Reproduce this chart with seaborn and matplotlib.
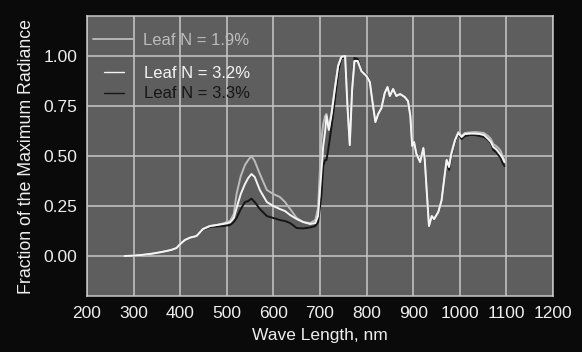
import numpy as np
import pandas as pd
import matplotlib
matplotlib.use("Agg")
import matplotlib.pyplot as plt
import seaborn as sns
from matplotlib.lines import Line2D

wavelength = [280, 300, 320, 340, 360, 380, 392, 400, 410, 421, 435, 449, 464, 478, 492,
              507, 515, 521, 530, 539, 546, 553, 560, 571, 586, 600, 614, 625, 636, 650,
              664, 679, 690, 696, 703, 707, 711, 714, 719, 725, 732, 739, 746, 754, 759,
              764, 769, 774, 781, 789, 800, 807, 814, 819, 825, 832, 839, 845, 850, 857,
              864, 872, 882, 889, 894, 898, 902, 907, 915, 922, 925, 930, 934, 940, 945,
              954, 961, 968, 972, 977, 982, 990, 997, 1004, 1011, 1022, 1032, 1043, 1052,
              1061, 1067, 1072, 1078, 1083, 1088, 1092, 1096]

leaf_n_19 = [0.0, 0.002, 0.006, 0.012, 0.02, 0.03, 0.04, 0.06, 0.08, 0.092, 0.10, 0.135, 0.15, 0.155, 0.163,
             0.175, 0.21, 0.31, 0.40, 0.455, 0.48, 0.50, 0.475, 0.41, 0.33, 0.31, 0.295, 0.27, 0.235, 0.19,
             0.17, 0.165, 0.18, 0.24, 0.58, 0.66, 0.70, 0.71, 0.64, 0.72, 0.84, 0.95, 1.0, 1.0, 0.75,
             0.555, 0.83, 0.975, 0.975, 0.925, 0.90, 0.87, 0.75, 0.67, 0.71, 0.74, 0.815, 0.845, 0.80, 0.835,
             0.80, 0.81, 0.795, 0.775, 0.70, 0.55, 0.57, 0.51, 0.47, 0.54, 0.48, 0.295, 0.15, 0.20, 0.185,
             0.22, 0.278, 0.41, 0.48, 0.45, 0.515, 0.58, 0.62, 0.60, 0.615, 0.618, 0.62, 0.618, 0.615,
             0.60, 0.585, 0.56, 0.55, 0.54, 0.525, 0.50, 0.48]

leaf_n_32 = [0.0, 0.002, 0.006, 0.012, 0.02, 0.03, 0.04, 0.06, 0.08, 0.092, 0.10, 0.135, 0.15, 0.155, 0.16,
             0.168, 0.19, 0.24, 0.31, 0.36, 0.39, 0.41, 0.395, 0.33, 0.27, 0.25, 0.235, 0.225, 0.205, 0.185,
             0.17, 0.16, 0.165, 0.20, 0.42, 0.55, 0.62, 0.70, 0.63, 0.71, 0.835, 0.95, 0.995, 1.0, 0.75,
             0.555, 0.83, 0.975, 0.975, 0.925, 0.90, 0.87, 0.75, 0.67, 0.71, 0.74, 0.815, 0.845, 0.80, 0.835,
             0.80, 0.81, 0.795, 0.775, 0.70, 0.55, 0.57, 0.51, 0.47, 0.54, 0.48, 0.295, 0.15, 0.20, 0.185,
             0.22, 0.278, 0.41, 0.48, 0.445, 0.51, 0.58, 0.615, 0.595, 0.61, 0.612, 0.612, 0.61, 0.605,
             0.585, 0.57, 0.545, 0.535, 0.52, 0.505, 0.49, 0.47]

leaf_n_33 = [0.0, 0.002, 0.006, 0.012, 0.02, 0.03, 0.04, 0.06, 0.08, 0.092, 0.10, 0.132, 0.145, 0.148, 0.15,
             0.155, 0.17, 0.19, 0.235, 0.27, 0.275, 0.287, 0.27, 0.235, 0.20, 0.19, 0.18, 0.175, 0.165, 0.14,
             0.138, 0.143, 0.15, 0.17, 0.30, 0.45, 0.48, 0.48, 0.55, 0.65, 0.78, 0.92, 0.99, 0.99, 0.75,
             0.555, 0.83, 0.99, 0.985, 0.93, 0.905, 0.87, 0.75, 0.67, 0.71, 0.74, 0.815, 0.845, 0.80, 0.835,
             0.80, 0.81, 0.795, 0.775, 0.70, 0.55, 0.57, 0.51, 0.47, 0.54, 0.48, 0.295, 0.15, 0.20, 0.185,
             0.22, 0.278, 0.41, 0.47, 0.43, 0.50, 0.575, 0.61, 0.585, 0.60, 0.605, 0.605, 0.60, 0.595,
             0.58, 0.565, 0.53, 0.52, 0.505, 0.49, 0.465, 0.45]

labels = ["Leaf N = 1.9%", "Leaf N = 3.2%", "Leaf N = 3.3%"]
colors = ["#bcbcbc", "#f4f4f4", "#161616"]

df = pd.concat([
    pd.DataFrame({"wl": wavelength, "val": leaf_n_33, "series": labels[2]}),
    pd.DataFrame({"wl": wavelength, "val": leaf_n_19, "series": labels[0]}),
    pd.DataFrame({"wl": wavelength, "val": leaf_n_32, "series": labels[1]}),
])

sns.set_style("dark")
plt.rcParams["font.family"] = ["Liberation Sans", "DejaVu Sans"]

fig = plt.figure(figsize=(5.82, 3.52), dpi=100)
fig.patch.set_facecolor("#0a0a0a")
ax = fig.add_axes([0.1495, 0.159, 0.8005, 0.7955])
ax.set_facecolor("#5e5e5e")

palette = dict(zip(labels, colors))
sns.lineplot(data=df, x="wl", y="val", hue="series", palette=palette,
             hue_order=[labels[2], labels[0], labels[1]], linewidth=1.4,
             ax=ax, legend=False, sort=False, estimator=None)

ax.set_xlim(200, 1200)
ax.set_ylim(-0.2, 1.2)
ax.set_xticks(np.arange(200, 1201, 100))
ax.set_yticks([0.0, 0.25, 0.5, 0.75, 1.0])
ax.set_yticklabels(["0.00", "0.25", "0.50", "0.75", "1.00"])
ax.grid(True, color="#c8c8c8", linewidth=1.1)
ax.set_axisbelow(True)
for s in ax.spines.values():
    s.set_visible(True)
    s.set_color("#c8c8c8")
    s.set_linewidth(1.1)
ax.tick_params(axis="both", length=0, labelsize=12.5, colors="#eeeeee")
ax.tick_params(axis="x", pad=7)
ax.tick_params(axis="y", pad=7)
ax.set_xlabel("Wave Length, nm", color="#eeeeee", fontsize=12.5, labelpad=5)
ax.set_ylabel("Fraction of the Maximum Radiance", color="#eeeeee", fontsize=12.8, labelpad=6)

h1 = [Line2D([], [], color=colors[0], linewidth=1.3)]
leg1 = ax.legend(h1, [labels[0]], loc="center left", bbox_to_anchor=(0.0129, 0.914),
                 frameon=False, borderpad=0, borderaxespad=0, handlelength=2.4,
                 handletextpad=0.6, fontsize=12, labelcolor=[colors[0]])
ax.add_artist(leg1)
h2 = [Line2D([], [], color=colors[1], linewidth=1.0), Line2D([], [], color=colors[2], linewidth=1.0)]
ax.legend(h2, labels[1:], loc="center left", bbox_to_anchor=(0.037, 0.759),
          frameon=False, borderpad=0, borderaxespad=0, handlelength=1.2,
          handletextpad=1.2, fontsize=12, labelspacing=0.35,
          labelcolor=[colors[1], colors[2]])

fig.savefig("out.png", dpi=100, facecolor=fig.get_facecolor())
